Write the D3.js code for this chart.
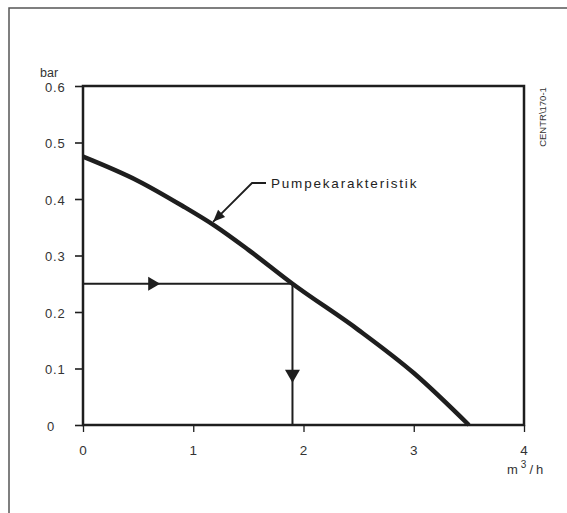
<!DOCTYPE html>
<html><head><meta charset="utf-8">
<script src="https://cdn.jsdelivr.net/npm/d3@7/dist/d3.min.js"></script>
<style>
html,body{margin:0;padding:0;background:#fff;}
svg{display:block;font-family:"Liberation Sans",Arial,Helvetica,sans-serif;}
</style></head>
<body>
<svg id="chart" width="567" height="513"></svg>
<script>
// data
const flow = [0, 0.5, 0.9, 1.2, 1.5, 1.9, 2.5, 3.0, 3.5];          // m3/h
const pressure = [0.475, 0.432, 0.388, 0.352, 0.31, 0.25, 0.168, 0.092, 0]; // bar
const xTicks = [0, 1, 2, 3, 4];
const yTicks = [0, 0.1, 0.2, 0.3, 0.4, 0.5, 0.6];
const yTickLabels = ["0", "0.1", "0.2", "0.3", "0.4", "0.5", "0.6"];
const opFlow = 1.9, opPressure = 0.25;
const hArrowAt = 0.7, vArrowAt = 0.075;
const labelText = "Pumpekarakteristik";
const labelAnchor = [1.18, 0.356];
const codeText = "CENTR\\170-1";

const svg = d3.select("#chart");
const x = d3.scaleLinear().domain([0, 4]).range([83, 524]);
const y = d3.scaleLinear().domain([0, 0.6]).range([425, 86]);
const ink = "#1e1e1e";

// outer frame (clipped by viewport)
svg.append("rect").attr("x", 9).attr("y", 8).attr("width", 600).attr("height", 600)
  .attr("fill", "none").attr("stroke", "#555").attr("stroke-width", 1.5);

// plot box
svg.append("rect").attr("x", x(0)).attr("y", y(0.6))
  .attr("width", x(4) - x(0)).attr("height", y(0) - y(0.6))
  .attr("fill", "none").attr("stroke", ink).attr("stroke-width", 2.5);

// axes ticks
const yAxis = svg.append("g").attr("transform", `translate(${x(0)},0)`)
  .call(d3.axisLeft(y).tickValues(yTicks).tickSize(8).tickFormat(""));
yAxis.select(".domain").remove();
yAxis.selectAll("line").attr("stroke", ink).attr("stroke-width", 1.6);

const xAxis = svg.append("g").attr("transform", `translate(0,${y(0)})`)
  .call(d3.axisBottom(x).tickValues(xTicks).tickSize(7).tickFormat(""));
xAxis.select(".domain").remove();
xAxis.selectAll("line").attr("stroke", ink).attr("stroke-width", 1.3);

// tick labels
svg.append("g").selectAll("text").data(yTicks).join("text")
  .attr("x", (d, i) => i === 0 ? 47 : 45).attr("y", d => y(d) + 5.5)
  .attr("font-size", 13).attr("letter-spacing", 0.8).attr("fill", "#333")
  .text((d, i) => yTickLabels[i]);
svg.append("g").selectAll("text").data(xTicks).join("text")
  .attr("x", d => x(d)).attr("y", y(0) + 30).attr("text-anchor", "middle")
  .attr("font-size", 13.5).attr("fill", "#333").text(d => d);

// axis unit labels
svg.append("text").attr("x", 40).attr("y", 77).attr("font-size", 12.5).attr("fill", "#333").text("bar");
const unit = svg.append("text").attr("x", 507).attr("y", 474).attr("font-size", 13).attr("fill", "#333")
  .attr("letter-spacing", 3);
unit.append("tspan").text("m");
unit.append("tspan").attr("dy", -6).attr("font-size", 10).text("3");
unit.append("tspan").attr("dy", 6).text("/h");

// code label rotated
svg.append("text").attr("transform", `translate(546,117) rotate(-90)`)
  .attr("text-anchor", "middle").attr("font-size", 9.5).attr("fill", "#333").text(codeText);

// operating point reference lines
svg.append("path")
  .attr("d", `M${x(0)},${y(opPressure)}H${x(opFlow)}V${y(0)}`)
  .attr("fill", "none").attr("stroke", ink).attr("stroke-width", 2);

// arrowheads
const hx = x(hArrowAt), hy = y(opPressure);
svg.append("path").attr("d", `M${hx},${hy}l-12,-7l0,14z`).attr("fill", ink);
const vx = x(opFlow), vy = y(vArrowAt);
svg.append("path").attr("d", `M${vx},${vy}l-7.5,-13l15,0z`).attr("fill", ink);

// pump curve
const line = d3.line().x(d => x(d[0])).y(d => y(d[1])).curve(d3.curveMonotoneX);
svg.append("path").datum(flow.map((f, i) => [f, pressure[i]]))
  .attr("d", line).attr("fill", "none").attr("stroke", ink)
  .attr("stroke-width", 4.5).attr("stroke-linejoin", "round");

// annotation leader
const tipX = x(labelAnchor[0]), tipY = y(labelAnchor[1]) - 2;
const kneeX = 252, kneeY = 183;
svg.append("path").attr("d", `M266,${kneeY}H${kneeX}L${tipX},${tipY}`)
  .attr("fill", "none").attr("stroke", ink).attr("stroke-width", 1.8);
// arrowhead on leader
const ang = Math.atan2(tipY - kneeY, tipX - kneeX);
const ah = 12, aw = 5;
const bx = tipX - ah * Math.cos(ang), by = tipY - ah * Math.sin(ang);
svg.append("path").attr("d",
  `M${tipX},${tipY}L${bx + aw * Math.sin(ang)},${by - aw * Math.cos(ang)}L${bx - aw * Math.sin(ang)},${by + aw * Math.cos(ang)}Z`)
  .attr("fill", ink);
svg.append("text").attr("x", 271).attr("y", 188).attr("font-size", 13.5)
  .attr("letter-spacing", 1.8).attr("fill", "#222").text(labelText);
</script>
</body></html>
